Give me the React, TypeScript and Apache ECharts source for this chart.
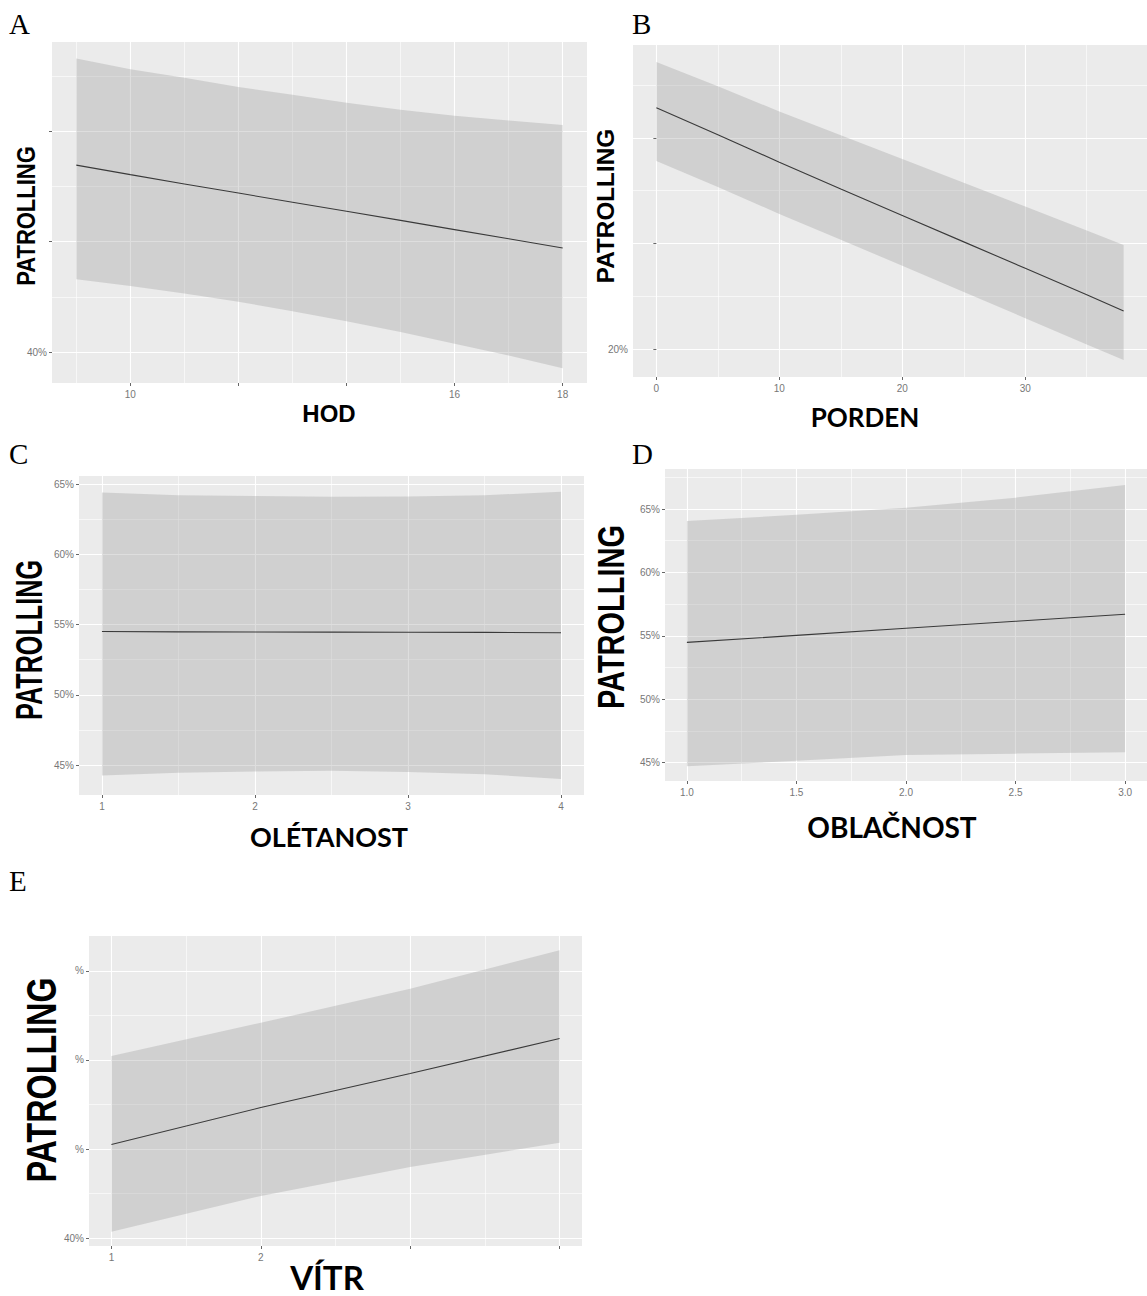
import React, { useEffect, useRef } from "react";
import * as echarts from "echarts";

// ---------- Panel A: HOD ----------
const hodX = [9, 10, 11, 12, 13, 14, 15, 16, 17, 18];
const hodFit = [56.94, 56.08, 55.24, 54.41, 53.58, 52.76, 51.94, 51.1, 50.27, 49.43];
const hodLower = [46.6, 45.99, 45.32, 44.56, 43.71, 42.8, 41.82, 40.76, 39.7, 38.54];
const hodUpper = [66.6, 65.64, 64.85, 64.03, 63.33, 62.6, 61.96, 61.41, 60.99, 60.59];
const hodXTicks = [10, 12, 14, 16, 18];
const hodXTickLabels = ["10", "", "", "16", "18"];
const hodXMinor = [9, 11, 13, 15, 17];
const hodYTicks = [40, 50, 60];
const hodYTickLabels = ["40%", "", ""];
const hodYMinor = [45, 55, 65];

// ---------- Panel B: PORDEN ----------
const pordenX = [0, 5, 10, 15, 20, 25, 30, 35, 38];
const pordenFit = [65.69, 60.6, 55.4, 50.3, 45.3, 40.3, 35.3, 30.3, 27.2];
const pordenLower = [55.64, 50.68, 45.6, 40.7, 35.78, 30.81, 25.85, 20.88, 17.91];
const pordenUpper = [74.4, 69.8, 65.0, 60.5, 56.0, 51.5, 47.0, 42.46, 39.72];
const pordenXTicks = [0, 10, 20, 30];
const pordenXTickLabels = ["0", "10", "20", "30"];
const pordenXMinor = [5, 15, 25, 35];
const pordenYTicks = [20, 40, 60];
const pordenYTickLabels = ["20%", "", ""];
const pordenYMinor = [30, 50, 70];

// ---------- Panel C: OLÉTANOST ----------
const oletX = [1, 1.5, 2, 2.5, 3, 3.5, 4];
const oletFit = [54.5, 54.48, 54.47, 54.46, 54.45, 54.44, 54.42];
const oletLower = [44.25, 44.45, 44.55, 44.6, 44.5, 44.35, 44.0];
const oletUpper = [64.4, 64.2, 64.15, 64.1, 64.12, 64.2, 64.45];
const oletXTicks = [1, 2, 3, 4];
const oletXTickLabels = ["1", "2", "3", "4"];
const oletXMinor = [1.5, 2.5, 3.5];
const oletYTicks = [45, 50, 55, 60, 65];
const oletYTickLabels = ["45%", "50%", "55%", "60%", "65%"];
const oletYMinor = [47.5, 52.5, 57.5, 62.5];

// ---------- Panel D: OBLAČNOST ----------
const oblX = [1, 1.5, 2, 2.5, 3];
const oblFit = [54.48, 55.03, 55.59, 56.14, 56.7];
const oblLower = [44.7, 45.14, 45.6, 45.7, 45.8];
const oblUpper = [64.05, 64.55, 65.1, 65.9, 66.9];
const oblXTicks = [1, 1.5, 2, 2.5, 3];
const oblXTickLabels = ["1.0", "1.5", "2.0", "2.5", "3.0"];
const oblXMinor = [1.25, 1.75, 2.25, 2.75];
const oblYTicks = [45, 50, 55, 60, 65];
const oblYTickLabels = ["45%", "50%", "55%", "60%", "65%"];
const oblYMinor = [47.5, 52.5, 57.5, 62.5, 67.5];

// ---------- Panel E: VÍTR ----------
const vitrX = [1, 2, 3, 4];
const vitrFit = [50.53, 54.66, 58.48, 62.4];
const vitrLower = [40.73, 44.75, 48.0, 50.73];
const vitrUpper = [60.44, 64.17, 67.98, 72.31];
const vitrXTicks = [1, 2, 3, 4];
const vitrXTickLabels = ["1", "2", "", ""];
const vitrXMinor = [1.5, 2.5, 3.5];
const vitrYTicks = [40, 50, 60, 70];
const vitrYTickLabels = ["40%", "%", "%", "%"];
const vitrYMinor = [45, 55, 65];

const panels = [
  {
    x: hodX, fit: hodFit, lower: hodLower, upper: hodUpper,
    xTicks: hodXTicks, xLabels: hodXTickLabels, xMinor: hodXMinor,
    yTicks: hodYTicks, yLabels: hodYTickLabels, yMinor: hodYMinor,
    grid: { left: 52, top: 42, width: 535, height: 341 },
    xRange: [8.55, 18.45], yRange: [37.2, 68.1],
  },
  {
    x: pordenX, fit: pordenFit, lower: pordenLower, upper: pordenUpper,
    xTicks: pordenXTicks, xLabels: pordenXTickLabels, xMinor: pordenXMinor,
    yTicks: pordenYTicks, yLabels: pordenYTickLabels, yMinor: pordenYMinor,
    grid: { left: 633, top: 45, width: 522, height: 332 },
    xRange: [-1.9, 39.9], yRange: [14.7, 77.6],
  },
  {
    x: oletX, fit: oletFit, lower: oletLower, upper: oletUpper,
    xTicks: oletXTicks, xLabels: oletXTickLabels, xMinor: oletXMinor,
    yTicks: oletYTicks, yLabels: oletYTickLabels, yMinor: oletYMinor,
    grid: { left: 79, top: 476, width: 505, height: 319 },
    xRange: [0.85, 4.15], yRange: [42.87, 65.57],
  },
  {
    x: oblX, fit: oblFit, lower: oblLower, upper: oblUpper,
    xTicks: oblXTicks, xLabels: oblXTickLabels, xMinor: oblXMinor,
    yTicks: oblYTicks, yLabels: oblYTickLabels, yMinor: oblYMinor,
    grid: { left: 665, top: 469, width: 482, height: 312 },
    xRange: [0.9, 3.1], yRange: [43.54, 68.16],
  },
  {
    x: vitrX, fit: vitrFit, lower: vitrLower, upper: vitrUpper,
    xTicks: vitrXTicks, xLabels: vitrXTickLabels, xMinor: vitrXMinor,
    yTicks: vitrYTicks, yLabels: vitrYTickLabels, yMinor: vitrYMinor,
    grid: { left: 89, top: 936, width: 493, height: 310 },
    xRange: [0.85, 4.15], yRange: [39.14, 73.9],
  },
];

const LABEL_COLOR = "#777777";
const TICK_COLOR = "#666666";

function buildOption() {
  const grids: any[] = [];
  const xAxes: any[] = [];
  const yAxes: any[] = [];
  const series: any[] = [];

  panels.forEach((p, i) => {
    grids.push({
      ...p.grid,
      show: true,
      backgroundColor: "#EBEBEB",
      borderWidth: 0,
      containLabel: false,
    });
    const mkMajor = (ticks: number[], labels: string[], range: number[], isX: boolean) => ({
      type: "value",
      gridIndex: i,
      min: range[0],
      max: range[1],
      position: isX ? "bottom" : "left",
      axisLine: { show: false },
      axisTick: {
        show: true,
        length: 3,
        lineStyle: { color: TICK_COLOR, width: 1 },
        customValues: ticks,
      },
      axisLabel: {
        show: true,
        customValues: ticks,
        color: LABEL_COLOR,
        fontSize: 10,
        fontFamily: "Liberation Sans",
        margin: isX ? 6 : 5,
        formatter: (v: number) => {
          const k = ticks.findIndex((t) => Math.abs(t - v) < 1e-9);
          return k >= 0 ? labels[k] : "";
        },
      },
      splitLine: { show: true, lineStyle: { color: "#FFFFFF", width: 1.1 } },
    });
    const mkMinor = (minor: number[], range: number[], isX: boolean) => ({
      type: "value",
      gridIndex: i,
      min: range[0],
      max: range[1],
      position: isX ? "bottom" : "left",
      axisLine: { show: false },
      axisTick: { show: false, customValues: minor },
      axisLabel: { show: false, customValues: minor },
      splitLine: { show: true, lineStyle: { color: "#FFFFFF", width: 0.6 } },
    });
    xAxes.push(mkMajor(p.xTicks, p.xLabels, p.xRange, true));
    xAxes.push(mkMinor(p.xMinor, p.xRange, true));
    yAxes.push(mkMajor(p.yTicks, p.yLabels, p.yRange, false));
    yAxes.push(mkMinor(p.yMinor, p.yRange, false));

    // confidence ribbon drawn through the axes' scales
    series.push({
      type: "custom",
      xAxisIndex: 2 * i,
      yAxisIndex: 2 * i,
      silent: true,
      clip: true,
      data: [[p.x[0], p.fit[0]]],
      renderItem: (_params: any, api: any) => {
        const top = p.x.map((v, j) => api.coord([v, p.upper[j]]));
        const bottom = p.x.map((v, j) => api.coord([v, p.lower[j]])).reverse();
        return {
          type: "polygon",
          shape: { points: top.concat(bottom) },
          style: { fill: "rgba(150,150,150,0.31)", stroke: "none" },
        };
      },
    });
    series.push({
      type: "line",
      xAxisIndex: 2 * i,
      yAxisIndex: 2 * i,
      symbol: "none",
      silent: true,
      lineStyle: { color: "#3a3a3a", width: 1.1 },
      data: p.x.map((v, j) => [v, p.fit[j]]),
    });
  });

  const letter = (t: string, x: number, y: number) => ({
    type: "text",
    x,
    y,
    style: {
      text: t,
      fill: "#000",
      font: "29px 'Liberation Serif'",
      textAlign: "left",
      textVerticalAlign: "top",
    },
  });

  const yTitle = (x: number, y: number, size: number, scale: number) => ({
    type: "text",
    x,
    y,
    rotation: Math.PI / 2,
    scaleY: scale,
    style: {
      text: "PATROLLING",
      fill: "#000",
      font: `bold ${size}px 'Liberation Sans'`,
      textAlign: "center",
      textVerticalAlign: "middle",
    },
  });

  const xTitle = (t: string, x: number, y: number, size: number, family: string) => ({
    type: "text",
    x,
    y,
    style: {
      text: t,
      fill: "#000",
      font: `bold ${size}px ${family}`,
      textAlign: "center",
      textVerticalAlign: "middle",
    },
  });

  const graphic = [
    letter("A", 9, 9),
    letter("B", 632, 9),
    letter("C", 9, 439),
    letter("D", 632, 439),
    letter("E", 9, 866),
    yTitle(26, 216, 22, 1.14),
    yTitle(605, 206, 24.3, 1.0),
    yTitle(30, 640, 25.2, 1.44),
    yTitle(611, 617, 29, 1.25),
    yTitle(41, 1080, 32.3, 1.3),
    xTitle("HOD", 329, 413, 24, "'Liberation Sans'"),
    xTitle("PORDEN", 865, 417, 26, "Lato"),
    xTitle("OLÉTANOST", 329, 836, 27, "Lato"),
    xTitle("OBLAČNOST", 892, 827, 28, "Lato"),
    xTitle("VÍTR", 327, 1277, 33, "Lato"),
  ];

  return {
    animation: false,
    backgroundColor: "#FFFFFF",
    grid: grids,
    xAxis: xAxes,
    yAxis: yAxes,
    series,
    graphic,
  };
}

export default function App() {
  const ref = useRef<HTMLDivElement>(null);
  useEffect(() => {
    if (!ref.current) return;
    const chart = echarts.init(ref.current, undefined, { renderer: "svg" });
    chart.setOption(buildOption() as any);
    return () => chart.dispose();
  }, []);
  return (
    <div
      ref={ref}
      style={{ position: "absolute", left: 0, top: 0, width: 1147, height: 1296, background: "#fff" }}
    />
  );
}
